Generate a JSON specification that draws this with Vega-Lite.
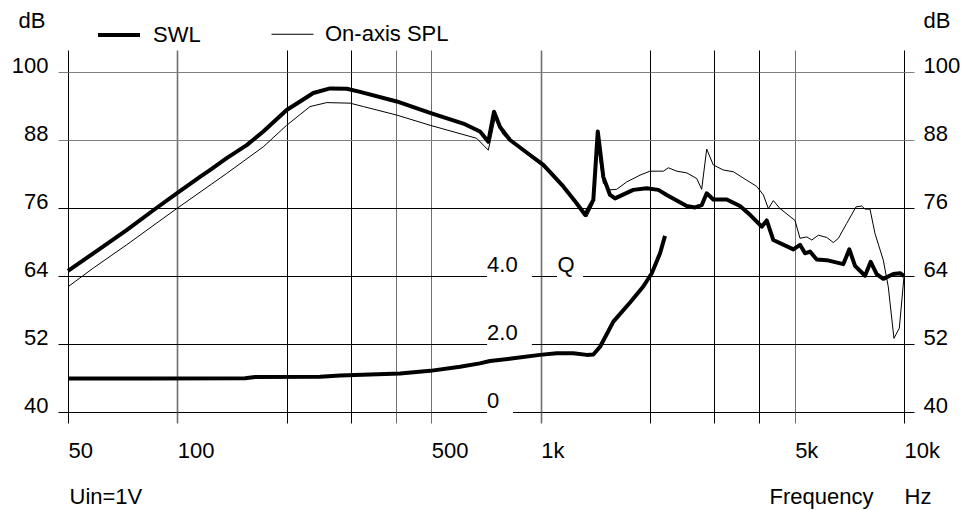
{
  "$schema": "https://vega.github.io/schema/vega-lite/v6.json",
  "width": 836,
  "height": 340,
  "autosize": {"type": "none"},
  "padding": {"left": 68, "top": 72, "right": 66, "bottom": 98},
  "background": "white",
  "config": {
    "font": "Liberation Sans",
    "view": {"stroke": null},
    "axis": {"labelFontSize": 22, "titleFontSize": 22, "labelColor": "black", "titleColor": "black", "titleFontWeight": "normal", "labelFont": "Liberation Sans", "titleFont": "Liberation Sans", "labelFlush": false, "labelOverlap": false},
    "text": {"font": "Liberation Sans"}
  },
  "datasets": {
    "boxes": [
      {"label": "4.0", "f1": 712, "f2": 946, "d1": 63.5, "d2": 64.5},
      {"label": "2.0", "f1": 712, "f2": 946, "d1": 51.5, "d2": 52.5},
      {"label": "0", "f1": 712, "f2": 839, "d1": 39.5, "d2": 40.5},
      {"label": "Q", "f1": 1109, "f2": 1308, "d1": 63.5, "d2": 64.5}
    ],
    "curves": [
      {"series": "SWL", "f": 50, "db": 64.9},
      {"series": "SWL", "f": 58.7, "db": 68.0},
      {"series": "SWL", "f": 72.5, "db": 72.1},
      {"series": "SWL", "f": 85.9, "db": 75.6},
      {"series": "SWL", "f": 99.6, "db": 78.6},
      {"series": "SWL", "f": 115.4, "db": 81.5},
      {"series": "SWL", "f": 122.9, "db": 82.7},
      {"series": "SWL", "f": 136.7, "db": 84.8},
      {"series": "SWL", "f": 155.2, "db": 87.1},
      {"series": "SWL", "f": 172.4, "db": 89.5},
      {"series": "SWL", "f": 199.9, "db": 93.3},
      {"series": "SWL", "f": 217.6, "db": 94.8},
      {"series": "SWL", "f": 236.7, "db": 96.3},
      {"series": "SWL", "f": 263.2, "db": 97.1},
      {"series": "SWL", "f": 292.6, "db": 97.05},
      {"series": "SWL", "f": 318.3, "db": 96.5},
      {"series": "SWL", "f": 401.6, "db": 94.8},
      {"series": "SWL", "f": 496, "db": 92.8},
      {"series": "SWL", "f": 612.5, "db": 90.9},
      {"series": "SWL", "f": 680.8, "db": 89.5},
      {"series": "SWL", "f": 717.6, "db": 87.7},
      {"series": "SWL", "f": 744, "db": 93.0},
      {"series": "SWL", "f": 772.9, "db": 90.3},
      {"series": "SWL", "f": 823.4, "db": 88.0},
      {"series": "SWL", "f": 934.6, "db": 85.35},
      {"series": "SWL", "f": 1017, "db": 83.6},
      {"series": "SWL", "f": 1154, "db": 79.8},
      {"series": "SWL", "f": 1257, "db": 76.8},
      {"series": "SWL", "f": 1325, "db": 74.8},
      {"series": "SWL", "f": 1396, "db": 77.4},
      {"series": "SWL", "f": 1436, "db": 89.5},
      {"series": "SWL", "f": 1487, "db": 81.5},
      {"series": "SWL", "f": 1552, "db": 78.3},
      {"series": "SWL", "f": 1602, "db": 77.7},
      {"series": "SWL", "f": 1798, "db": 79.2},
      {"series": "SWL", "f": 1958, "db": 79.5},
      {"series": "SWL", "f": 2108, "db": 79.2},
      {"series": "SWL", "f": 2223, "db": 78.3},
      {"series": "SWL", "f": 2523, "db": 76.35},
      {"series": "SWL", "f": 2660, "db": 76.1},
      {"series": "SWL", "f": 2774, "db": 76.5},
      {"series": "SWL", "f": 2864, "db": 78.6},
      {"series": "SWL", "f": 2986, "db": 77.5},
      {"series": "SWL", "f": 3252, "db": 77.5},
      {"series": "SWL", "f": 3537, "db": 76.35},
      {"series": "SWL", "f": 3769, "db": 74.8},
      {"series": "SWL", "f": 4059, "db": 72.7},
      {"series": "SWL", "f": 4190, "db": 73.8},
      {"series": "SWL", "f": 4369, "db": 70.35},
      {"series": "SWL", "f": 4959, "db": 68.7},
      {"series": "SWL", "f": 5174, "db": 69.5},
      {"series": "SWL", "f": 5341, "db": 68.0},
      {"series": "SWL", "f": 5513, "db": 68.3},
      {"series": "SWL", "f": 5753, "db": 66.9},
      {"series": "SWL", "f": 6130, "db": 66.8},
      {"series": "SWL", "f": 6809, "db": 66.1},
      {"series": "SWL", "f": 7072, "db": 68.7},
      {"series": "SWL", "f": 7332, "db": 65.8},
      {"series": "SWL", "f": 7811, "db": 64.05},
      {"series": "SWL", "f": 8097, "db": 66.5},
      {"series": "SWL", "f": 8411, "db": 64.35},
      {"series": "SWL", "f": 8770, "db": 63.5},
      {"series": "SWL", "f": 9344, "db": 64.35},
      {"series": "SWL", "f": 9752, "db": 64.5},
      {"series": "SWL", "f": 10000, "db": 64.0},
      {"series": "On-axis SPL", "f": 50, "db": 62.1},
      {"series": "On-axis SPL", "f": 58.7, "db": 65.4},
      {"series": "On-axis SPL", "f": 72.5, "db": 69.5},
      {"series": "On-axis SPL", "f": 99.6, "db": 75.9},
      {"series": "On-axis SPL", "f": 136.7, "db": 82.1},
      {"series": "On-axis SPL", "f": 172.4, "db": 86.8},
      {"series": "On-axis SPL", "f": 199.9, "db": 90.6},
      {"series": "On-axis SPL", "f": 231.8, "db": 93.9},
      {"series": "On-axis SPL", "f": 257.7, "db": 94.6},
      {"series": "On-axis SPL", "f": 298.8, "db": 94.5},
      {"series": "On-axis SPL", "f": 325, "db": 93.9},
      {"series": "On-axis SPL", "f": 401.6, "db": 92.4},
      {"series": "On-axis SPL", "f": 496, "db": 90.6},
      {"series": "On-axis SPL", "f": 666.7, "db": 88.3},
      {"series": "On-axis SPL", "f": 717.6, "db": 86.2},
      {"series": "On-axis SPL", "f": 748.8, "db": 91.8},
      {"series": "On-axis SPL", "f": 789.1, "db": 88.9},
      {"series": "On-axis SPL", "f": 934.6, "db": 85.05},
      {"series": "On-axis SPL", "f": 1017, "db": 83.3},
      {"series": "On-axis SPL", "f": 1154, "db": 79.5},
      {"series": "On-axis SPL", "f": 1339, "db": 74.4},
      {"series": "On-axis SPL", "f": 1396, "db": 76.8},
      {"series": "On-axis SPL", "f": 1427, "db": 88.0},
      {"series": "On-axis SPL", "f": 1487, "db": 80.4},
      {"series": "On-axis SPL", "f": 1552, "db": 79.2},
      {"series": "On-axis SPL", "f": 1619, "db": 79.3},
      {"series": "On-axis SPL", "f": 1725, "db": 80.6},
      {"series": "On-axis SPL", "f": 1877, "db": 81.8},
      {"series": "On-axis SPL", "f": 2000, "db": 82.5},
      {"series": "On-axis SPL", "f": 2176, "db": 82.5},
      {"series": "On-axis SPL", "f": 2246, "db": 83.1},
      {"series": "On-axis SPL", "f": 2368, "db": 82.5},
      {"series": "On-axis SPL", "f": 2523, "db": 82.2},
      {"series": "On-axis SPL", "f": 2689, "db": 81.2},
      {"series": "On-axis SPL", "f": 2774, "db": 79.3},
      {"series": "On-axis SPL", "f": 2864, "db": 86.4},
      {"series": "On-axis SPL", "f": 2986, "db": 83.6},
      {"series": "On-axis SPL", "f": 3182, "db": 82.7},
      {"series": "On-axis SPL", "f": 3391, "db": 82.4},
      {"series": "On-axis SPL", "f": 3691, "db": 80.9},
      {"series": "On-axis SPL", "f": 3933, "db": 79.8},
      {"series": "On-axis SPL", "f": 4102, "db": 78.3},
      {"series": "On-axis SPL", "f": 4233, "db": 75.9},
      {"series": "On-axis SPL", "f": 4369, "db": 77.3},
      {"series": "On-axis SPL", "f": 4558, "db": 75.9},
      {"series": "On-axis SPL", "f": 5012, "db": 73.8},
      {"series": "On-axis SPL", "f": 5174, "db": 70.65},
      {"series": "On-axis SPL", "f": 5399, "db": 70.9},
      {"series": "On-axis SPL", "f": 5573, "db": 70.35},
      {"series": "On-axis SPL", "f": 5812, "db": 71.2},
      {"series": "On-axis SPL", "f": 6130, "db": 70.8},
      {"series": "On-axis SPL", "f": 6391, "db": 69.9},
      {"series": "On-axis SPL", "f": 6597, "db": 70.65},
      {"series": "On-axis SPL", "f": 6957, "db": 73.3},
      {"series": "On-axis SPL", "f": 7379, "db": 76.2},
      {"series": "On-axis SPL", "f": 7650, "db": 76.35},
      {"series": "On-axis SPL", "f": 7811, "db": 75.8},
      {"series": "On-axis SPL", "f": 8061, "db": 75.8},
      {"series": "On-axis SPL", "f": 8321, "db": 71.5},
      {"series": "On-axis SPL", "f": 8770, "db": 66.8},
      {"series": "On-axis SPL", "f": 9051, "db": 62.1},
      {"series": "On-axis SPL", "f": 9384, "db": 53.0},
      {"series": "On-axis SPL", "f": 9708, "db": 54.8},
      {"series": "On-axis SPL", "f": 10000, "db": 63.9}
    ],
    "q": [
      {"f": 50, "q": 0.985},
      {"f": 84.1, "q": 0.985},
      {"f": 153.6, "q": 0.99},
      {"f": 163.6, "q": 1.03},
      {"f": 247, "q": 1.04},
      {"f": 280.4, "q": 1.07},
      {"f": 410, "q": 1.13},
      {"f": 496, "q": 1.21},
      {"f": 599.9, "q": 1.33},
      {"f": 680, "q": 1.43},
      {"f": 725.2, "q": 1.5},
      {"f": 840.8, "q": 1.58},
      {"f": 995.8, "q": 1.68},
      {"f": 1107, "q": 1.73},
      {"f": 1230, "q": 1.73},
      {"f": 1339, "q": 1.68},
      {"f": 1396, "q": 1.69},
      {"f": 1457, "q": 1.92},
      {"f": 1585, "q": 2.66},
      {"f": 1762, "q": 3.22},
      {"f": 1916, "q": 3.69},
      {"f": 2022, "q": 4.08},
      {"f": 2131, "q": 4.67},
      {"f": 2199, "q": 5.18}
    ],
    "qlabels": [
      {"label": "4.0", "q": 4, "f": 712},
      {"label": "2.0", "q": 2, "f": 712},
      {"label": "0", "q": 0, "f": 712},
      {"label": "Q", "q": 4, "f": 1112}
    ]
  },
  "resolve": {"scale": {"y": "independent"}, "axis": {"x": "independent", "y": "independent"}},
  "layer": [
    {
      "data": {"name": "boxes"},
      "mark": {"type": "rect", "fill": "white", "strokeWidth": 0},
      "encoding": {
        "x": {
          "field": "f1", "type": "quantitative",
          "scale": {"type": "log", "domain": [50, 10000], "nice": false},
          "axis": {
            "orient": "bottom",
            "values": [50, 100, 200, 300, 400, 500, 1000, 2000, 3000, 4000, 5000, 10000],
            "grid": true,
            "gridColor": {"condition": {"test": "datum.value == 100 || datum.value == 1000 || datum.value == 400 || datum.value == 500 || datum.value == 5000", "value": "#707070"}, "value": "#000000"},
            "gridWidth": {"condition": {"test": "datum.value == 100 || datum.value == 1000", "value": 1.6}, "value": 1},
            "ticks": true,
            "tickSize": 11,
            "tickColor": {"condition": {"test": "datum.value == 100 || datum.value == 1000 || datum.value == 400 || datum.value == 500 || datum.value == 5000", "value": "#707070"}, "value": "#000000"},
            "tickWidth": {"condition": {"test": "datum.value == 100 || datum.value == 1000", "value": 1.6}, "value": 1},
            "domain": false,
            "labelExpr": "datum.value == 50 ? '50' : datum.value == 100 ? '100' : datum.value == 500 ? '500' : datum.value == 1000 ? '1k' : datum.value == 5000 ? '5k' : datum.value == 10000 ? '10k' : ''",
            "labelAlign": "left",
            "labelBaseline": "alphabetic",
            "labelPadding": 34,
            "title": "Uin=1V",
            "titleX": 1,
            "titleY": 91,
            "titleAlign": "left",
            "titleBaseline": "alphabetic",
            "titleAngle": 0
          }
        },
        "x2": {"field": "f2"},
        "y": {
          "field": "d1", "type": "quantitative",
          "scale": {"domain": [40, 100], "nice": false, "zero": false},
          "axis": {
            "orient": "left",
            "values": [40, 52, 64, 76, 88, 100],
            "grid": true,
            "gridColor": {"condition": {"test": "datum.value >= 88", "value": "#808080"}, "value": "#000000"},
            "tickColor": {"condition": {"test": "datum.value >= 88", "value": "#808080"}, "value": "#000000"},
            "tickSize": 10,
            "domain": false,
            "labelPadding": 10,
            "labelAlign": "right",
            "labelBaseline": "alphabetic",
            "title": "dB",
            "titleAngle": 0,
            "titleX": -50,
            "titleY": -45,
            "titleAlign": "left",
            "titleBaseline": "alphabetic"
          }
        },
        "y2": {"field": "d2"}
      }
    },
    {
      "data": {"name": "curves"},
      "mark": {"type": "line", "color": "black", "strokeJoin": "round"},
      "encoding": {
        "x": {
          "field": "f", "type": "quantitative",
          "scale": {"type": "log", "domain": [50, 10000], "nice": false},
          "axis": {
            "orient": "top",
            "values": [50, 100, 200, 300, 400, 500, 1000, 2000, 3000, 4000, 5000, 10000],
            "grid": false,
            "ticks": true,
            "tickSize": 22,
            "tickColor": {"condition": {"test": "datum.value == 100 || datum.value == 1000 || datum.value == 400 || datum.value == 500 || datum.value == 5000", "value": "#707070"}, "value": "#000000"},
            "tickWidth": {"condition": {"test": "datum.value == 100 || datum.value == 1000", "value": 1.6}, "value": 1},
            "labels": false,
            "domain": false,
            "title": "Hz",
            "titleX": 836,
            "titleY": 431,
            "titleAlign": "left",
            "titleBaseline": "alphabetic",
            "titleAngle": 0
          }
        },
        "y": {
          "field": "db", "type": "quantitative",
          "scale": {"domain": [40, 100], "nice": false, "zero": false},
          "axis": {
            "orient": "right",
            "values": [40, 52, 64, 76, 88, 100],
            "grid": false,
            "tickSize": 10,
            "tickColor": {"condition": {"test": "datum.value >= 88", "value": "#808080"}, "value": "#000000"},
            "domain": false,
            "labelPadding": 9,
            "labelAlign": "left",
            "labelBaseline": "alphabetic",
            "title": "dB",
            "titleAngle": 0,
            "titleX": 19,
            "titleY": -45,
            "titleAlign": "left",
            "titleBaseline": "alphabetic"
          }
        },
        "strokeWidth": {
          "field": "series", "type": "nominal",
          "scale": {"domain": ["SWL", "On-axis SPL"], "range": [4, 1]},
          "legend": {
            "orient": "none",
            "legendX": 28,
            "legendY": -60,
            "direction": "horizontal",
            "title": null,
            "symbolType": "stroke",
            "symbolSize": 1764,
            "symbolStrokeColor": "black",
            "labelFontSize": 22,
            "labelFont": "Liberation Sans",
            "labelColor": "black",
            "labelOffset": 11,
            "columnPadding": 68,
            "padding": 0
          }
        }
      }
    },
    {
      "data": {"name": "q"},
      "mark": {"type": "line", "color": "black", "strokeWidth": 4, "strokeJoin": "round"},
      "encoding": {
        "x": {
          "field": "f", "type": "quantitative",
          "scale": {"type": "log", "domain": [50, 10000], "nice": false},
          "axis": {
            "orient": "bottom",
            "labels": false,
            "ticks": false,
            "grid": false,
            "domain": false,
            "title": "Frequency",
            "titleX": 753,
            "titleY": 91,
            "titleAlign": "center",
            "titleBaseline": "alphabetic",
            "titleAngle": 0
          }
        },
        "y": {
          "field": "q", "type": "quantitative",
          "scale": {"domain": [0, 10], "nice": false, "zero": false},
          "axis": null
        }
      }
    },
    {
      "data": {"name": "qlabels"},
      "mark": {"type": "text", "align": "left", "baseline": "alphabetic", "dy": -4, "fontSize": 22, "color": "black"},
      "encoding": {
        "x": {
          "field": "f", "type": "quantitative",
          "scale": {"type": "log", "domain": [50, 10000], "nice": false},
          "axis": null
        },
        "y": {
          "field": "q", "type": "quantitative",
          "scale": {"domain": [0, 10], "nice": false, "zero": false},
          "axis": null
        },
        "text": {"field": "label"}
      }
    }
  ]
}
